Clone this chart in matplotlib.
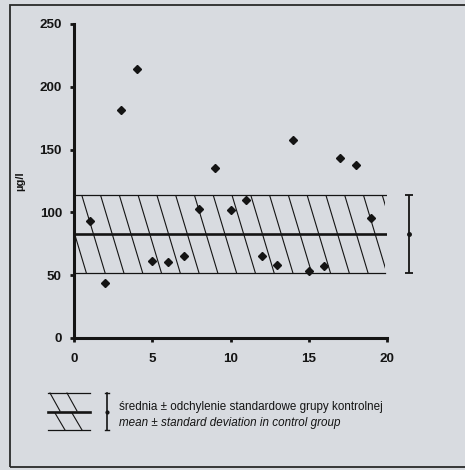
import matplotlib
matplotlib.use('Agg')
import matplotlib.pyplot as plt
from matplotlib.patches import Rectangle
from matplotlib.lines import Line2D

# ---- data ----
patients = list(range(1, 20))
values = [93, 43.5, 181.5, 214, 61, 60.5, 65, 103, 135, 102, 109.5,
          65.5, 58, 158, 53, 57.5, 143, 138, 95.5]
ctrl_mean = 83
ctrl_sd = 31
x_ticks = [0, 5, 10, 15, 20]
y_ticks = [0, 50, 100, 150, 200, 250]
ylabel = 'µg/l'
legend_pl = 'średnia ± odchylenie standardowe grupy kontrolnej'
legend_en = 'mean ± standard deviation in control group'

plt.rcParams['font.family'] = ['Liberation Sans', 'DejaVu Sans']

bg = '#d8dbe0'
ink = '#141414'
W, H = 465, 470
fig = plt.figure(figsize=(W / 100, H / 100), dpi=100, facecolor=bg)
ax_l, ax_r, ax_t, ax_b = 74, 387, 24, 338
ax = fig.add_axes([ax_l / W, 1 - ax_b / H, (ax_r - ax_l) / W, (ax_b - ax_t) / H])
ax.set_facecolor('none')
ax.set_xlim(0, 20)
ax.set_ylim(0, 250)

lo, hi = ctrl_mean - ctrl_sd, ctrl_mean + ctrl_sd
band_end = 19.9

# band boundaries and mean line
ax.plot([0, 20.1], [hi, hi], color=ink, lw=0.9, zorder=3)
ax.plot([0, band_end], [lo, lo], color=ink, lw=0.9, zorder=3)
ax.plot([0, 20], [ctrl_mean, ctrl_mean], color=ink, lw=1.9, zorder=3)

# diagonal hatching (steep "\" lines), clipped to band
px_per_x = (ax_r - ax_l) / 20.0
px_per_y = (ax_b - ax_t) / 250.0
slope_px = 0.3                        # horizontal px per vertical px
shift = slope_px * (hi - lo) * px_per_y / px_per_x
spacing = 1.2
start = 0.49
clip = Rectangle((0, lo), band_end, hi - lo, transform=ax.transData)
for k in range(-3, 19):
    xt = start + spacing * k
    ln, = ax.plot([xt, xt + shift], [hi, lo], color=ink, lw=0.8, zorder=2)
    ln.set_clip_path(clip)

# data points
ax.plot(patients, values, 'D', ms=4.0, color=ink, zorder=5, clip_on=False)

# error bar at right (mean ± sd)
eb = ax.errorbar([21.4], [ctrl_mean], yerr=[ctrl_sd], fmt='o', ms=2.5,
                 color=ink, capsize=3, elinewidth=1.3, capthick=1.3)
for a in eb.get_children():
    a.set_clip_on(False)

# axes styling
for s in ['top', 'right']:
    ax.spines[s].set_visible(False)
for s in ['left', 'bottom']:
    ax.spines[s].set_linewidth(2.2)
    ax.spines[s].set_color(ink)
ax.set_xticks(x_ticks)
ax.set_yticks(y_ticks)
ax.tick_params(direction='out', length=3.2, width=2.0, colors=ink,
               labelsize=9.6)
ax.tick_params(axis='y', pad=5.5)
ax.tick_params(axis='x', pad=7.5)
for lab in ax.get_xticklabels() + ax.get_yticklabels():
    lab.set_fontweight('bold')
ax.set_ylabel(ylabel, fontsize=8, fontweight='bold', color=ink)
ax.yaxis.set_label_coords(-0.157, 0.5)

# outer frame
fig.add_artist(Rectangle((10 / W, 1 - 467 / H), 470 / W, (467 - 5) / H,
                         transform=fig.transFigure, fill=False, lw=1.3,
                         ec='#2a2a2a'))

# legend glyph
def P(x, y):
    return x / W, 1 - y / H

def seg(p0, p1, lw):
    (x0, y0), (x1, y1) = P(*p0), P(*p1)
    fig.add_artist(Line2D([x0, x1], [y0, y1], transform=fig.transFigure,
                          color=ink, lw=lw))

seg((48, 393), (90, 393), 0.9)
seg((48, 430), (90, 430), 0.9)
seg((48, 412), (90, 412), 1.9)
for x0 in (50, 67):
    seg((x0, 393), (x0 + 10, 411), 0.8)
for x0 in (55, 72):
    seg((x0, 413), (x0 + 10, 430), 0.8)
seg((107, 393), (107, 430), 1.2)
seg((105, 393), (109, 393), 1.0)
seg((105, 430), (109, 430), 1.0)
fig.add_artist(Line2D([P(107, 412)[0]], [P(107, 412)[1]], marker='o', ms=2,
                      color=ink, transform=fig.transFigure))

fig.text(119 / W, 1 - 407 / H, legend_pl, fontsize=8.4, va='center', color=ink)
fig.text(119 / W, 1 - 423 / H, legend_en, fontsize=8.4, va='center',
         style='italic', color=ink)

fig.savefig('out.png', dpi=100, facecolor=bg)
